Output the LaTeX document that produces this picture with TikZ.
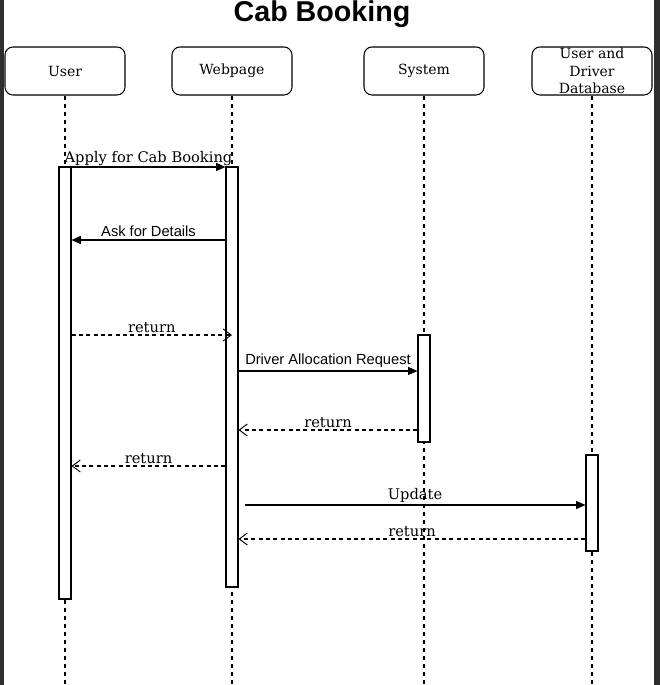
\documentclass[tikz,border=0pt]{standalone}
\usepackage{fontspec}
\setmainfont{DejaVu Serif}
\setsansfont{Liberation Sans}
\usetikzlibrary{arrows.meta}

\begin{document}
\begin{tikzpicture}[
x=0.75pt,
y=-0.75pt,
line width=0.8pt
]

\tikzstyle{head} = [draw, rounded corners=6pt, minimum width=90pt, minimum height=36pt, align=center, inner sep=0pt, font=\fontsize{10.5}{13}\selectfont]
\tikzstyle{life} = [dash pattern=on 3pt off 3pt]
\tikzstyle{bar} = [draw, fill=white, minimum width=9pt, inner sep=0pt]
\tikzstyle{call} = [-{Triangle[length=7pt,width=6pt]}]
\tikzstyle{ret} = [dash pattern=on 3pt off 2.5pt, -{Straight Barb[length=6pt,width=9pt,line width=0.7pt]}]
\tikzstyle{lbl} = [above, inner sep=1.5pt, font=\fontsize{11}{13}\selectfont]
\tikzstyle{slbl} = [above, inner sep=2pt, font=\sffamily\fontsize{11}{13}\selectfont]

\fill[white] (0,0) rectangle (660,685);
\fill[black!82] (0,0) rectangle (4,685);
\fill[black!82] (654,0) rectangle (660,685);
\useasboundingbox (0,0) rectangle (660,685);

\node (title) at (322,14) {\sffamily\bfseries\fontsize{21.5}{24}\selectfont Cab Booking};

\node[head] (user) at (65,71) {User};
\node[head] (web) at (232,71) {Webpage};
\node[head] (sys) at (424,71) {System};
\node[head] (db) at (592,71) {User and\\Driver\\Database};

\draw[life] (user) -- (user |- 0,685);
\draw[life] (web) -- (web |- 0,685);
\draw[life] (sys) -- (sys |- 0,685);
\draw[life] (db) -- (db |- 0,685);

\node[bar, minimum height=324pt] (ubar) at (65,383) {};
\node[bar, minimum height=315pt] (wbar) at (232,377) {};
\node[bar, minimum height=80.25pt] (sbar) at (424,388.5) {};
\node[bar, minimum height=72pt] (dbar) at (592,503) {};

\draw[call] (ubar.east |- 0,167) -- (wbar.west |- 0,167) node[lbl, midway, inner sep=0.5pt] {Apply for Cab Booking};
\draw[call] (wbar.west |- 0,240) -- (ubar.east |- 0,240) node[slbl, midway] {Ask for Details};
\draw[ret] (ubar.east |- 0,335) -- (wbar.center |- 0,335) node[lbl, midway] {return};
\draw[call] (wbar.east |- 0,371) -- (sbar.west |- 0,371) node[slbl, midway] {Driver Allocation Request};
\draw[ret] (sbar.west |- 0,430) -- (wbar.east |- 0,430) node[lbl, midway] {return};
\draw[ret] (wbar.west |- 0,466) -- (ubar.east |- 0,466) node[lbl, midway] {return};
\draw[call] ([xshift=4.5pt]wbar.east |- 0,505) -- (dbar.west |- 0,505) node[lbl, midway] {Update};
\draw[ret] (dbar.west |- 0,539) -- (wbar.east |- 0,539) node[lbl, midway] {return};
\end{tikzpicture}
\end{document}
